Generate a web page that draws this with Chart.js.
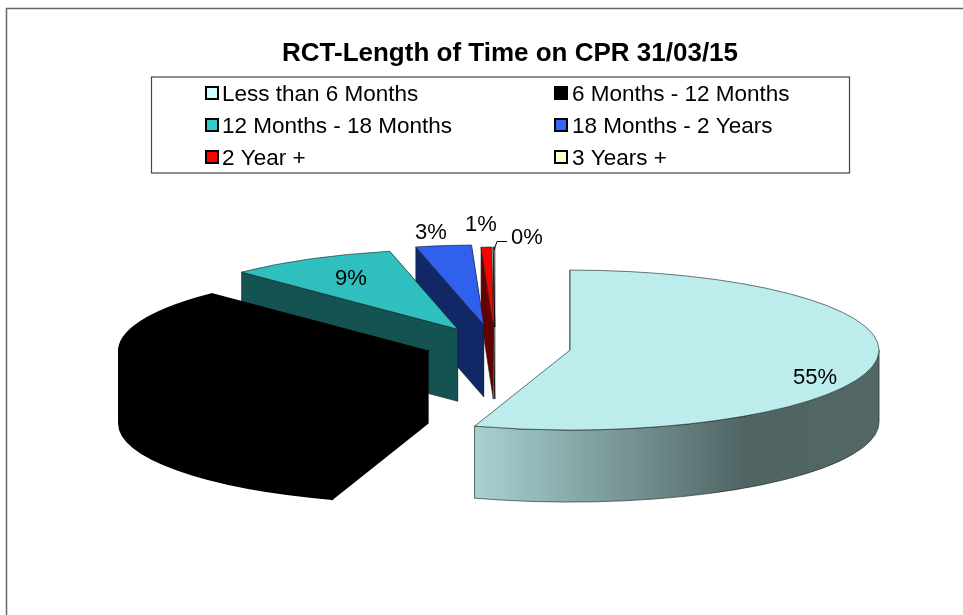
<!DOCTYPE html>
<html>
<head>
<meta charset="utf-8">
<title>RCT-Length of Time on CPR</title>
<script src="https://cdn.jsdelivr.net/npm/chart.js@4"></script>
<style>
  html, body { margin: 0; padding: 0; background: #fff; }
  canvas { display: block; }
</style>
</head>
<body>
<canvas id="cprChart" width="963" height="615"></canvas>
<script>
const categories = [
  "Less than 6 Months",
  "6 Months - 12 Months",
  "12 Months - 18 Months",
  "18 Months - 2 Years",
  "2 Year +",
  "3 Years +",
];
const percentages = [55, 32.67, 8.8, 2.9, 0.55, 0.08];
const explode = [76, 69, 78, 86, 77, 77];

const topColors = ["#bcecec", "#000000", "#2fbfbf", "#2f60ee", "#ff0000", "#ffffff"];
const sideColors = ["#a8d0d0", "#000000", "#155353", "#122766", "#660000", "#ffffff"];
const legendColors = ["#ccffff", "#000000", "#33cccc", "#3366ff", "#ff0000", "#ffffcc"];

// where the percent labels sit
const labelSpots = [[815, 378], [270, 390], [351, 279], [431, 233], [481, 225], [527, 238]];

const FONT = "'Liberation Sans', Arial, sans-serif";
const PIE = { x: 495, y: 347, rx: 309, ry: 80, depth: 72 };

function sliceGeometry(arc, i) {
  const mid = (arc.startAngle + arc.endAngle) / 2;
  const k = PIE.ry / PIE.rx;
  return {
    x: PIE.x + explode[i] * Math.cos(mid),
    y: PIE.y + explode[i] * Math.sin(mid) * k,
    a0: arc.startAngle,
    a1: arc.endAngle,
  };
}

function cutFace(ctx, s, angle, color, outlined) {
  const px = s.x + PIE.rx * Math.cos(angle);
  const py = s.y + PIE.ry * Math.sin(angle);
  ctx.beginPath();
  ctx.moveTo(s.x, s.y);
  ctx.lineTo(px, py);
  ctx.lineTo(px, py + PIE.depth);
  ctx.lineTo(s.x, s.y + PIE.depth);
  ctx.closePath();
  ctx.fillStyle = color;
  ctx.fill();
  if (outlined) ctx.stroke();
}

function rim(ctx, s, i) {
  // only the front half of the ellipse shows a rim
  const from = Math.max(s.a0, 0);
  const to = Math.min(s.a1, Math.PI);
  if (to <= from) return;
  ctx.beginPath();
  ctx.ellipse(s.x, s.y, PIE.rx, PIE.ry, 0, from, to);
  ctx.ellipse(s.x, s.y + PIE.depth, PIE.rx, PIE.ry, 0, to, from, true);
  ctx.closePath();
  if (i === 0) {
    const left = s.x + PIE.rx * Math.cos(to);
    const grad = ctx.createLinearGradient(left, 0, s.x + PIE.rx, 0);
    grad.addColorStop(0, "#a9d1d1");
    grad.addColorStop(0.67, "#506464");
    grad.addColorStop(1, "#536767");
    ctx.fillStyle = grad;
  } else {
    ctx.fillStyle = sideColors[i];
  }
  ctx.fill();
  ctx.stroke();
}

const pie3d = {
  id: "pie3d",
  beforeDraw(chart) {
    const ctx = chart.ctx;
    ctx.save();
    ctx.strokeStyle = "#666666";
    ctx.lineWidth = 1.5;
    ctx.beginPath();
    ctx.moveTo(963, 8.5);
    ctx.lineTo(6.5, 8.5);
    ctx.lineTo(6.5, 615);
    ctx.stroke();
    ctx.restore();
  },
  beforeDatasetsDraw(chart) {
    const ctx = chart.ctx;
    const arcs = chart.getDatasetMeta(0).data;
    // back slices first, the big front ones go on top
    for (let i = arcs.length - 1; i >= 0; i--) {
      const arc = arcs[i];
      const s = sliceGeometry(arc, i);
      ctx.save();
      ctx.lineWidth = i === 1 ? 1.6 : 0.8;
      ctx.strokeStyle = i === 1 || i === 5 ? "#000000" : "rgba(20,30,30,0.75)";
      cutFace(ctx, s, s.a1, sideColors[i], false);
      cutFace(ctx, s, s.a0, sideColors[i], true);
      rim(ctx, s, i);

      ctx.save();
      ctx.translate(s.x, s.y);
      ctx.scale(1, PIE.ry / PIE.rx);
      ctx.translate(-arc.x, -arc.y);
      arc.draw(ctx);
      ctx.restore();

      ctx.beginPath();
      ctx.moveTo(s.x, s.y);
      ctx.ellipse(s.x, s.y, PIE.rx, PIE.ry, 0, s.a0, s.a1);
      ctx.closePath();
      ctx.stroke();
      ctx.restore();
    }
    return false;
  },
  afterDraw(chart) {
    const ctx = chart.ctx;
    ctx.save();

    // percent labels
    ctx.font = "22px " + FONT;
    ctx.fillStyle = "#000000";
    ctx.textAlign = "center";
    ctx.textBaseline = "middle";
    percentages.forEach((p, i) => {
      ctx.fillText(Math.round(p) + "%", labelSpots[i][0], labelSpots[i][1]);
    });

    // leader for the 0% label
    ctx.strokeStyle = "#000000";
    ctx.lineWidth = 1;
    ctx.beginPath();
    ctx.moveTo(507, 241.5);
    ctx.lineTo(497, 241.5);
    ctx.lineTo(494, 250);
    ctx.stroke();

    // legend box
    ctx.strokeStyle = "#444444";
    ctx.lineWidth = 1.2;
    ctx.strokeRect(151.5, 77, 698, 96);
    ctx.font = "22.5px " + FONT;
    ctx.textAlign = "left";
    ctx.textBaseline = "alphabetic";
    categories.forEach((name, i) => {
      const col = i % 2;
      const row = Math.floor(i / 2);
      const mx = col === 0 ? 206 : 555;
      const my = 93 + row * 32;
      ctx.fillStyle = legendColors[i];
      ctx.strokeStyle = "#000000";
      ctx.lineWidth = 2;
      ctx.fillRect(mx, my - 6, 12, 12);
      ctx.strokeRect(mx, my - 6, 12, 12);
      ctx.fillStyle = "#000000";
      ctx.fillText(name, col === 0 ? 222 : 572, my + 8);
    });
    ctx.restore();
  },
};

new Chart(document.getElementById("cprChart"), {
  type: "pie",
  data: {
    labels: categories,
    datasets: [
      {
        data: percentages,
        backgroundColor: topColors,
        borderWidth: 0,
      },
    ],
  },
  options: {
    responsive: false,
    animation: false,
    events: [],
    radius: PIE.rx,
    layout: { padding: { left: 57 } },
    plugins: {
      legend: { display: false },
      tooltip: { enabled: false },
      title: {
        display: true,
        text: "RCT-Length of Time on CPR 31/03/15",
        color: "#000000",
        font: { family: FONT, size: 26, weight: "bold" },
        padding: { top: 38, bottom: 8 },
      },
    },
  },
  plugins: [pie3d],
});
</script>
</body>
</html>
